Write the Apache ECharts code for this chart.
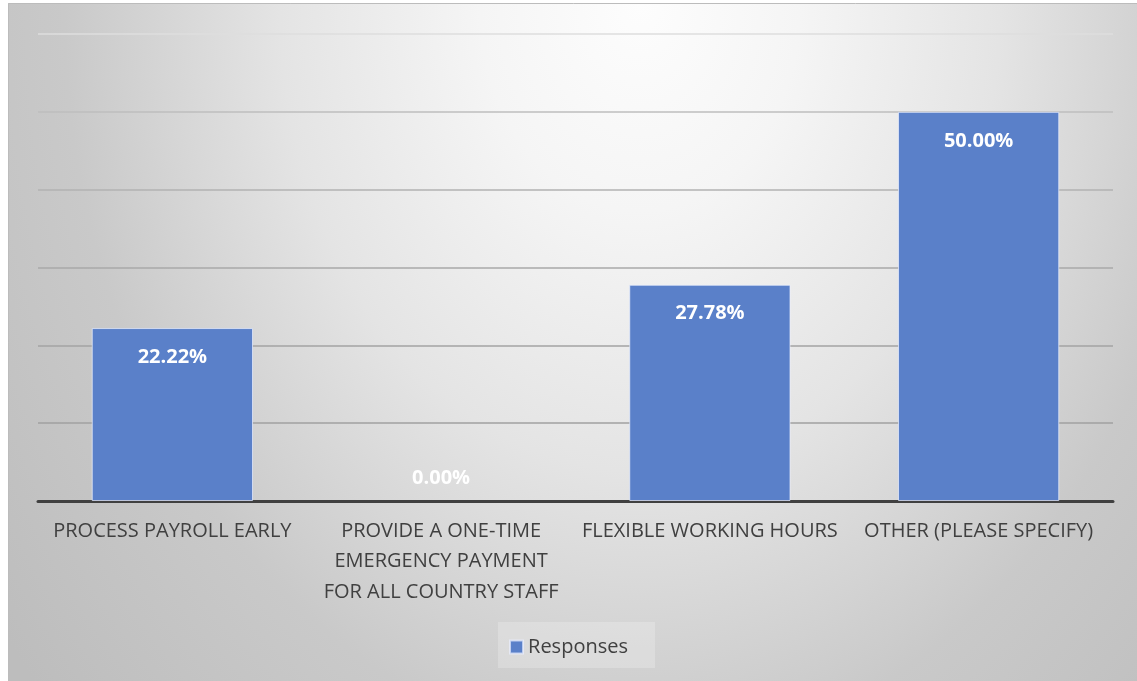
<!DOCTYPE html>
<html><head><meta charset="utf-8">
<script src="https://cdn.jsdelivr.net/npm/echarts@6/dist/echarts.min.js"></script>
<style>html,body{margin:0;padding:0;background:#fff}#c{width:1137px;height:681px}</style>
</head><body><div id="c"></div>
<script>
const categories = ['PROCESS PAYROLL EARLY', 'PROVIDE A ONE-TIME\nEMERGENCY PAYMENT\nFOR ALL COUNTRY STAFF', 'FLEXIBLE WORKING HOURS', 'OTHER (PLEASE SPECIFY)'];
const responses = [22.22, 0.00, 27.78, 50.00];
const seriesName = 'Responses';

const chart = echarts.init(document.getElementById('c'), null, {renderer: 'canvas'});
const font = '"Open Sans", "DejaVu Sans", sans-serif';
const SY = 1.3;
chart.setOption({
  animation: false,
  backgroundColor: '#ffffff',
  graphic: [{
    type: 'rect', z: -10, silent: true, scaleY: SY, originX: 0, originY: 0,
    shape: {x: 8, y: 3 / SY, width: 1140, height: 690 / SY},
    style: {
      fill: {type: 'radial', global: true, x: 640, y: 3 / SY, r: 800, colorStops: [
        {offset: 0, color: '#fdfdfd'}, {offset: 0.2, color: '#f5f5f5'}, {offset: 0.45, color: '#e4e4e4'},
        {offset: 0.72, color: '#c9c9c9'}, {offset: 1, color: '#bdbdbd'}]}
    }
  }, {
    type: 'rect', z: -9, silent: true,
    shape: {x: 8.5, y: 3.5, width: 1140, height: 690},
    style: {fill: 'none', stroke: '#bcbcbc', lineWidth: 1}
  }, {
    type: 'rect', z: -5, silent: true,
    shape: {x: 498, y: 622, width: 157, height: 46},
    style: {fill: 'rgba(255,255,255,0.22)'}
  }],
  grid: {left: 38, right: 24, top: 34, bottom: 180, containLabel: false},
  legend: {
    bottom: 19, left: 'center', itemWidth: 13, itemHeight: 13, itemGap: 7,
    icon: 'rect',
    textStyle: {color: '#404040', fontSize: 20, fontFamily: font},
    data: [seriesName]
  },
  xAxis: {
    type: 'category', data: categories,
    axisLine: {lineStyle: {color: '#404040', width: 3}},
    axisTick: {show: false},
    axisLabel: {color: '#404040', fontSize: 20, fontFamily: font, margin: 15, lineHeight: 30.5, interval: 0}
  },
  yAxis: {
    type: 'value', min: 0, max: 60, interval: 10,
    axisLabel: {show: false}, axisLine: {show: false}, axisTick: {show: false},
    splitLine: {lineStyle: {width: 1.5, color: ['#404040', '#a0a0a0', '#a3a3a3', '#a9a9a9', '#b2b2b2', '#bebebe', '#dedede']}}
  },
  series: [{
    name: seriesName, type: 'bar', barCategoryGap: '40%',
    data: responses.map(v => v === 0 ? {value: v, itemStyle: {borderWidth: 0}, label: {position: 'top', distance: 13}} : v),
    itemStyle: {color: '#5a80c9', borderColor: 'rgba(235,240,255,0.7)', borderWidth: 1},
    label: {
      show: true, position: 'insideTop', distance: 19,
      color: '#ffffff', fontWeight: 'bold', fontSize: 20, fontFamily: font,
      formatter: p => p.value.toFixed(2) + '%'
    }
  }]
});
</script></body></html>
